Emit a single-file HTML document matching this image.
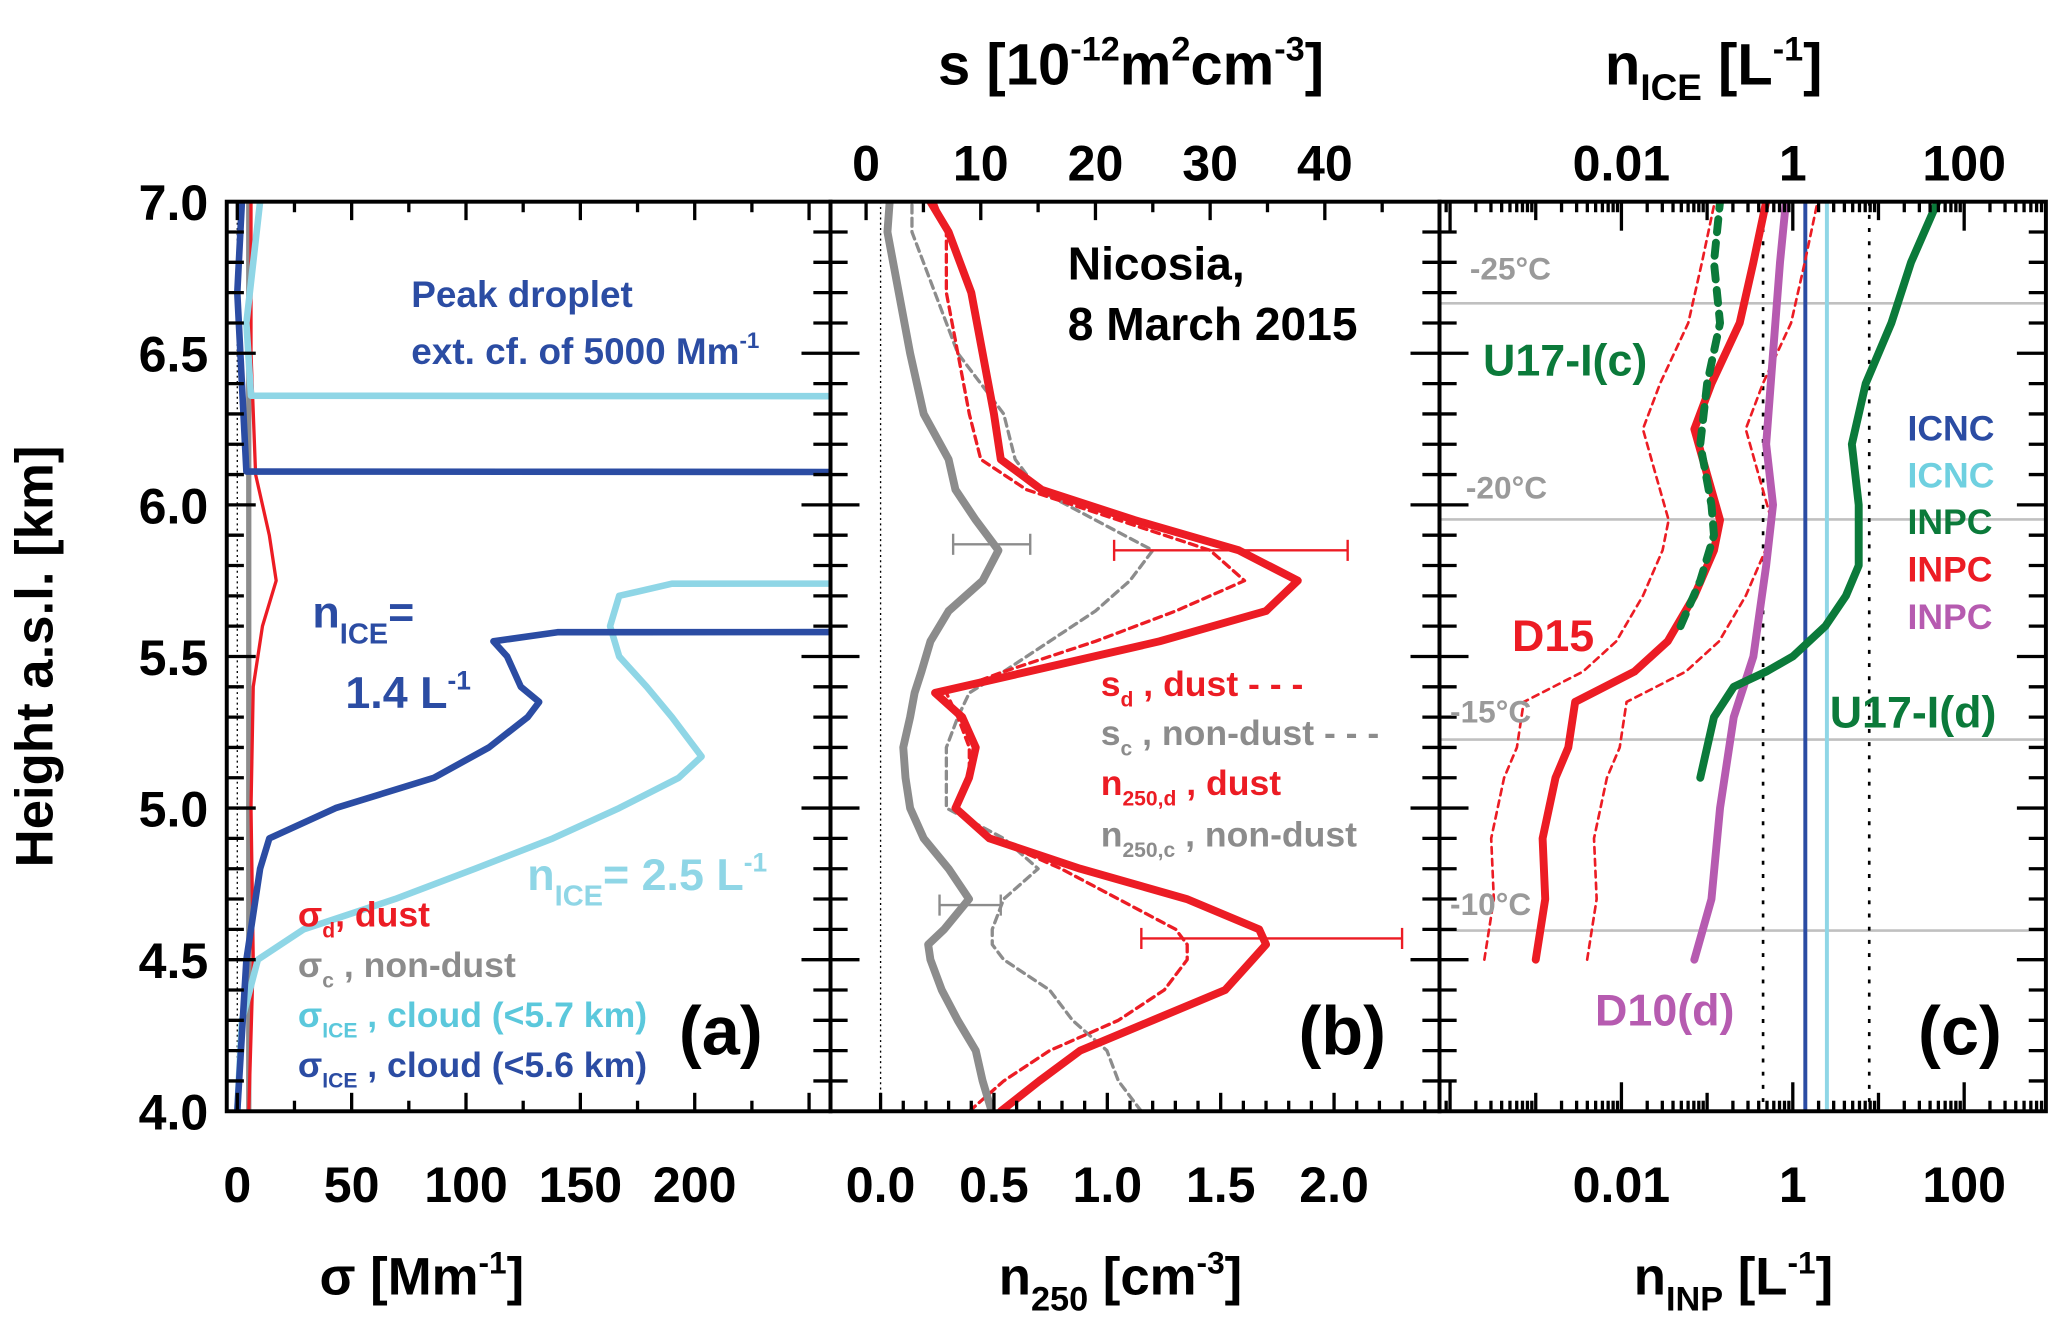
<!DOCTYPE html>
<html><head><meta charset="utf-8"><style>
html,body{margin:0;padding:0;background:#fff}
svg{display:block}
text{font-family:"Liberation Sans",Arial,sans-serif;font-weight:bold}
</style></head><body>
<svg id="fig" width="2067" height="1338" viewBox="0 0 1568 1015" xmlns="http://www.w3.org/2000/svg">
<defs>
<clipPath id="ca"><rect x="172" y="153" width="458" height="690"/></clipPath>
<clipPath id="cb"><rect x="630" y="153" width="462" height="690"/></clipPath>
<clipPath id="cc"><rect x="1092" y="153" width="460" height="690"/></clipPath>
</defs>
<g id="grid"></g>
<g id="marks"></g>
<g id="axes"></g>
<g id="labels">
<text x="40" y="498" font-size="40" text-anchor="middle" transform="rotate(-90 40 498)">Height a.s.l. [km]</text>
<text x="320" y="982" font-size="40" text-anchor="middle">σ [Mm<tspan dy="-16" font-size="24">-1</tspan><tspan dy="16">]</tspan></text>
<text x="850" y="982" font-size="40" text-anchor="middle">n<tspan dy="12" font-size="26">250</tspan><tspan dy="-12"> [cm</tspan><tspan dy="-16" font-size="24">-3</tspan><tspan dy="16">]</tspan></text>
<text x="1315" y="982" font-size="40" text-anchor="middle">n<tspan dy="12" font-size="26">INP</tspan><tspan dy="-12"> [L</tspan><tspan dy="-16" font-size="24">-1</tspan><tspan dy="16">]</tspan></text>
<text x="858" y="64" font-size="44" text-anchor="middle">s [10<tspan dy="-18" font-size="26">-12</tspan><tspan dy="18">m</tspan><tspan dy="-18" font-size="26">2</tspan><tspan dy="18">cm</tspan><tspan dy="-18" font-size="26">-3</tspan><tspan dy="18">]</tspan></text>
<text x="1300" y="64" font-size="44" text-anchor="middle">n<tspan dy="12" font-size="28">ICE</tspan><tspan dy="-12"> [L</tspan><tspan dy="-18" font-size="26">-1</tspan><tspan dy="18">]</tspan></text>
<text x="312" y="233" font-size="28" fill="#2b4ca3">Peak droplet</text>
<text x="312" y="276" font-size="28" fill="#2b4ca3">ext. cf. of 5000 Mm<tspan dy="-12" font-size="17">-1</tspan></text>
<text x="237" y="476" font-size="34" fill="#2b4ca3">n<tspan dy="12" font-size="22">ICE</tspan><tspan dy="-12">=</tspan></text>
<text x="262" y="537" font-size="34" fill="#2b4ca3">1.4 L<tspan dy="-14" font-size="20">-1</tspan></text>
<text x="400" y="675" font-size="34" fill="#8fd6e6">n<tspan dy="12" font-size="22">ICE</tspan><tspan dy="-12">= 2.5 L</tspan><tspan dy="-14" font-size="20">-1</tspan></text>
<text x="226" y="703" font-size="27" fill="#ec1c24">σ<tspan dy="8" font-size="16">d</tspan><tspan dy="-8">, dust</tspan></text>
<text x="226" y="741" font-size="27" fill="#8c8c8c">σ<tspan dy="8" font-size="16">c</tspan><tspan dy="-8"> , non-dust</tspan></text>
<text x="226" y="779" font-size="27" fill="#5bc8dc">σ<tspan dy="8" font-size="16">ICE</tspan><tspan dy="-8"> , cloud (&lt;5.7 km)</tspan></text>
<text x="226" y="817" font-size="27" fill="#2b4ca3">σ<tspan dy="8" font-size="16">ICE</tspan><tspan dy="-8"> , cloud (&lt;5.6 km)</tspan></text>
<text x="515" y="800" font-size="52">(a)</text>
<text x="985" y="800" font-size="52">(b)</text>
<text x="1455" y="800" font-size="52">(c)</text>
<text x="810" y="212" font-size="35">Nicosia,</text>
<text x="810" y="258" font-size="35">8 March 2015</text>
<text x="835" y="528" font-size="27" fill="#ec1c24">s<tspan dy="8" font-size="16">d</tspan><tspan dy="-8"> , dust - - -</tspan></text>
<text x="835" y="565" font-size="27" fill="#8c8c8c">s<tspan dy="8" font-size="16">c</tspan><tspan dy="-8"> , non-dust - - -</tspan></text>
<text x="835" y="603" font-size="27" fill="#ec1c24">n<tspan dy="8" font-size="16">250,d</tspan><tspan dy="-8"> , dust</tspan></text>
<text x="835" y="642" font-size="27" fill="#8c8c8c">n<tspan dy="8" font-size="16">250,c</tspan><tspan dy="-8"> , non-dust</tspan></text>
<text x="1115" y="212" font-size="24" fill="#9a9a9a" font-weight="normal">-25°C</text>
<text x="1112" y="378" font-size="24" fill="#9a9a9a" font-weight="normal">-20°C</text>
<text x="1100" y="548" font-size="24" fill="#9a9a9a" font-weight="normal">-15°C</text>
<text x="1100" y="694" font-size="24" fill="#9a9a9a" font-weight="normal">-10°C</text>
<text x="1125" y="285" font-size="34" fill="#0b7a3a">U17-I(c)</text>
<text x="1147" y="494" font-size="34" fill="#ec1c24">D15</text>
<text x="1388" y="552" font-size="34" fill="#0b7a3a">U17-I(d)</text>
<text x="1210" y="778" font-size="34" fill="#b65bb0">D10(d)</text>
<text x="1447" y="334" font-size="27" fill="#2b4ca3">ICNC</text>
<text x="1447" y="370" font-size="27" fill="#6fd0e0">ICNC</text>
<text x="1447" y="405" font-size="27" fill="#0b7a3a">INPC</text>
<text x="1447" y="441" font-size="27" fill="#ec1c24">INPC</text>
<text x="1447" y="477" font-size="27" fill="#b65bb0">INPC</text>
</g>
</svg>
<script>
// ---------- data ----------
const yTicks = ["4.0","4.5","5.0","5.5","6.0","6.5","7.0"];
const aTicks = ["0","50","100","150","200"];
const bTicks = ["0.0","0.5","1.0","1.5","2.0"];
const sTicks = ["0","10","20","30","40"];
const cTickExp = [-2,0,2];
const cTickLabels = ["0.01","1","100"];
// panel a (Mm^-1)
const hIceLight = [4.0,4.3,4.5,4.6,4.7,4.8,4.9,5.0,5.1,5.17,5.3,5.4,5.5,5.6,5.7,5.74,5.77,6.0,6.33,6.36,6.6,7.0];
const sIceLight = [0,2,9,29,69,104,138,167,193,203,190,179,167,163,167,190,5000,5000,5000,6,4,10];
const hIceDark = [4.0,4.5,4.8,4.9,5.0,5.1,5.2,5.3,5.35,5.4,5.5,5.55,5.58,5.6,5.8,6.08,6.11,6.4,6.7,7.0];
const sIceDark = [0,4,10,14,43,86,110,127,132,124,118,112,140,5000,5000,5000,4,2,0,2];
const hDust = [4.0,4.5,5.0,5.4,5.6,5.75,5.9,6.1,6.5,7.0];
const sDust = [5,7,6,7,11,17,14,8,6,6];
const hNonDust = [4.0,5.0,6.0,7.0];
const sNonDust = [5,5,5,5];
// panel b
const hB = [4.0,4.1,4.2,4.3,4.4,4.5,4.55,4.6,4.7,4.8,4.9,5.0,5.1,5.2,5.3,5.38,5.45,5.55,5.65,5.75,5.85,5.95,6.05,6.15,6.3,6.5,6.7,6.9,7.0];
const nDust = [0.53,0.7,0.88,1.2,1.52,1.64,1.7,1.67,1.35,0.88,0.48,0.33,0.39,0.42,0.36,0.24,0.65,1.23,1.7,1.84,1.58,1.12,0.71,0.53,0.5,0.45,0.4,0.3,0.22];
const sDustB = [9,12,16,22,26,28,28,27,22,17,11,8,9,9,8,7,12,20,27,33,30,22,14,10,9,8,7,7,6];
const nNonDust = [0.49,0.45,0.42,0.34,0.27,0.22,0.21,0.28,0.39,0.3,0.19,0.13,0.11,0.1,0.13,0.15,0.18,0.22,0.3,0.45,0.52,0.42,0.33,0.3,0.19,0.13,0.08,0.03,0.04];
const sNonDustB = [24,22,21,18,16,12,11,11,12,15,12,7,7,7,8,9,12,16,20,23,25,20,15,13,12,8,6,4,4];
const errH = [5.85,4.57,5.87,4.68];
const errLo = [1.03,1.15,0.32,0.26];
const errHi = [2.06,2.3,0.66,0.53];
const errCol = ["#ec1c24","#ec1c24","#8c8c8c","#8c8c8c"];
// panel c (log10 L^-1)
const hD15 = [4.5,4.7,4.9,5.1,5.2,5.35,5.45,5.55,5.7,5.85,5.95,6.1,6.25,6.4,6.6,6.8,7.0];
const d15 = [-3.0,-2.89,-2.92,-2.77,-2.62,-2.54,-1.85,-1.46,-1.15,-0.92,-0.85,-1.0,-1.15,-0.95,-0.62,-0.46,-0.31];
const hU17c = [5.6,5.75,5.9,6.0,6.2,6.4,6.6,6.8,7.0];
const u17c = [-1.31,-1.08,-0.92,-0.95,-1.08,-1.0,-0.85,-0.92,-0.85];
const hD10 = [4.5,4.7,5.0,5.3,5.5,5.8,6.0,6.2,6.5,6.8,7.0];
const d10 = [-1.15,-0.95,-0.85,-0.69,-0.46,-0.31,-0.23,-0.31,-0.23,-0.15,-0.08];
const hU17d = [5.1,5.2,5.3,5.4,5.45,5.5,5.6,5.7,5.8,6.0,6.2,6.4,6.6,6.8,7.0];
const u17d = [-1.08,-1.0,-0.92,-0.69,-0.31,0.0,0.38,0.62,0.77,0.77,0.69,0.85,1.15,1.38,1.69];
const icncDark = 1.4, icncLight = 2.5;
const dotLo = 0.45, dotHi = 7.8;
const tempH = [6.665,5.952,5.226,4.596];

// ---------- scales ----------
const Y = h => 153 + (7 - h) * 230;
const XA = v => 180 + v * 1.735;
const XB = n => 668 + n * 172;
const XS = s => 657 + s * 8.7;
const XC = l => 1230 + (l + 2) * 65;
const NS = "http://www.w3.org/2000/svg";
const marks = document.getElementById('marks');
const axes = document.getElementById('axes');
const grid = document.getElementById('grid');
function mk(tag, attrs, parent){const e=document.createElementNS(NS,tag);for(const k in attrs)e.setAttribute(k,attrs[k]);parent.appendChild(e);return e;}
function line(xs, hs, fx, color, w, dash, clip, name){
  const pts = hs.map((h,i)=>fx(xs[i]).toFixed(1)+','+Y(h).toFixed(1)).join(' ');
  const p = mk('polyline',{points:pts,fill:'none',stroke:color,'stroke-width':w,'stroke-linejoin':'round','stroke-linecap':'round','clip-path':'url(#'+clip+')'},marks);
  if(dash) p.setAttribute('stroke-dasharray',dash);
  
  
}
tempH.forEach(h=>{const l=mk('line',{x1:1092,x2:1552,y1:Y(h),y2:Y(h),stroke:'#c0c0c0','stroke-width':2},grid);
  
  });
[[XA(0)],[XB(0)]].forEach(x=>{const l=mk('line',{x1:x,x2:x,y1:153,y2:843,stroke:'#000','stroke-width':1,'stroke-dasharray':'1.5,2.5'},marks);
  
  });
line(sNonDust,hNonDust,XA,'#8c8c8c',4,null,'ca','sigma-c-line');
line(sDust,hDust,XA,'#ec1c24',2.5,null,'ca','sigma-d-line');
line(sIceLight,hIceLight,XA,'#8fd6e6',5,null,'ca','sigma-ice-light-line');
line(sIceDark,hIceDark,XA,'#2b4ca3',5,null,'ca','sigma-ice-dark-line');
line(sNonDustB,hB,XS,'#8c8c8c',2.5,'6,4','cb','s-c-line');
line(sDustB,hB,XS,'#ec1c24',2.5,'6,4','cb','s-d-line');
line(nNonDust,hB,XB,'#8c8c8c',6,null,'cb','n250-c-line');
line(nDust,hB,XB,'#ec1c24',6,null,'cb','n250-d-line');
errH.forEach((h,i)=>{const g=mk('g',{stroke:errCol[i],'stroke-width':1.8},marks);
  
  
  const y=Y(h),a=XB(errLo[i]),b=XB(errHi[i]);
  mk('line',{x1:a,x2:b,y1:y,y2:y},g);mk('line',{x1:a,x2:a,y1:y-8,y2:y+8},g);mk('line',{x1:b,x2:b,y1:y-8,y2:y+8},g);});
[dotLo,dotHi].forEach(v=>{const x=XC(Math.log10(v));const l=mk('line',{x1:x,x2:x,y1:153,y2:843,stroke:'#000','stroke-width':2,'stroke-dasharray':'3,7'},marks);
  
  });
[[icncDark,'#2b4ca3','icnc-dark-line'],[icncLight,'#8fd6e6','icnc-light-line']].forEach(d=>{const x=XC(Math.log10(d[0]));
  const l=mk('line',{x1:x,x2:x,y1:153,y2:843,stroke:d[1],'stroke-width':3},marks);
  
  });
line(d15.map(v=>v-0.6),hD15,XC,'#ec1c24',2,'5,4','cc','d15-lower');
line(d15.map(v=>v+0.6),hD15,XC,'#ec1c24',2,'5,4','cc','d15-upper');
line(d15,hD15,XC,'#ec1c24',6,null,'cc','d15-line');
line(u17c,hU17c,XC,'#0b7a3a',6,'10,8','cc','u17-c-line');
line(d10,hD10,XC,'#b65bb0',6,null,'cc','d10-line');
line(u17d,hU17d,XC,'#0b7a3a',6,null,'cc','u17-d-line');

function tick(x1,y1,x2,y2){mk('line',{x1,y1,x2,y2,stroke:'#000','stroke-width':2.5},axes);}
function label(x,y,t,anchor,size,name){const e=mk('text',{x,y,'font-size':size,'text-anchor':anchor},axes);e.textContent=t;
  
  }
[[172,630],[630,1092],[1092,1552]].forEach(p=>{const r=mk('rect',{x:p[0],y:153,width:p[1]-p[0],height:690,fill:'none',stroke:'#000','stroke-width':3},axes);
  
  });
for(let i=0;i<=30;i++){const h=4+i*0.1,y=Y(h),maj=i%5===0,L=maj?22:13;
  tick(172,y,172+L,y);tick(630-L,y,630+L,y);tick(1092-L,y,1092+L,y);tick(1552-L,y,1552,y);}
yTicks.forEach(t=>label(158,Y(+t)+14,t,'end',38,'y-tick-label'));
for(let v=0;v<=250;v+=25){const x=XA(v);tick(x,843,x,843-(v%50===0?14:8));tick(x,153,x,153+(v%50===0?14:8));}
aTicks.forEach(t=>label(XA(+t),912,t,'middle',38,'x-tick-label-a'));
for(let v=0;v<=2.6;v+=0.1){const x=XB(v);if(x>1090)break;const m=Math.round(v*10)%5===0;tick(x,843,x,843-(m?14:8));}
for(let v=0;v<=50;v+=5){const x=XS(v);if(x>1090)break;tick(x,153,x,153+(v%10===0?14:8));}
bTicks.forEach(t=>label(XB(+t),912,t,'middle',38,'x-tick-label-b'));
sTicks.forEach(t=>label(XS(+t),137,t,'middle',38,'top-tick-label-s'));
for(let d=-5;d<=3;d++){for(let m=1;m<10;m++){const x=XC(d+Math.log10(m));if(x<1094||x>1550)continue;const L=m===1?(d%2===0?22:14):8;
  tick(x,843,x,843-L);tick(x,153,x,153+L);}}
cTickExp.forEach((e,i)=>{label(XC(e),912,cTickLabels[i],'middle',38,'x-tick-label-c');label(XC(e),137,cTickLabels[i],'middle',38,'top-tick-label-nice');});
</script>
</body></html>
